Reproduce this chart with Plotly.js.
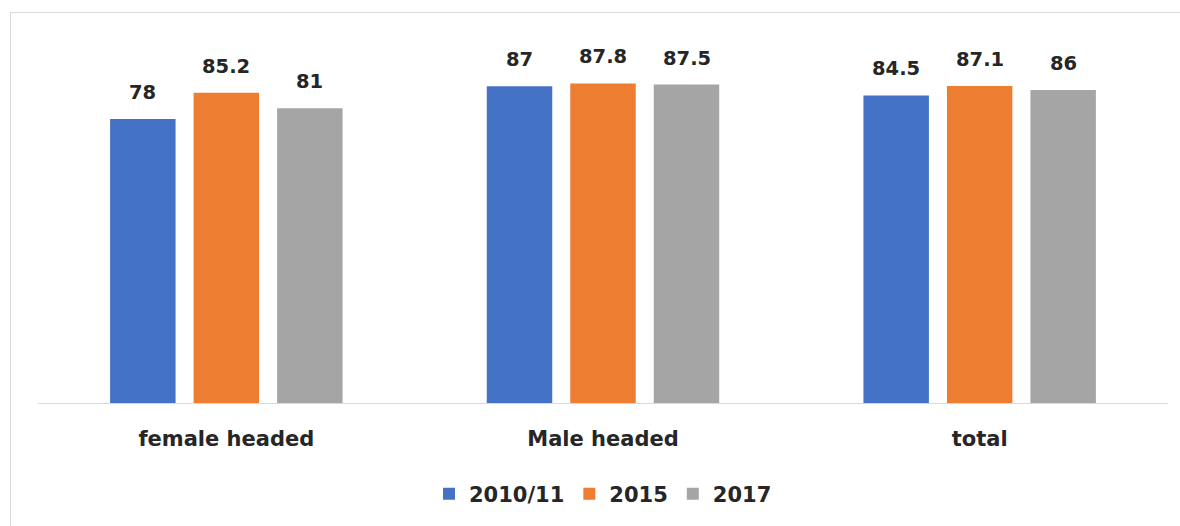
<!DOCTYPE html>
<html>
<head>
<meta charset="utf-8">
<script src="https://cdn.plot.ly/plotly-3.0.1.min.js"></script>
<style>
  html, body { margin: 0; padding: 0; background: #ffffff; }
  #wrap { position: relative; width: 1180px; height: 526px; overflow: hidden; }
  #chart { position: absolute; left: 0; top: 0; width: 1180px; height: 526px; }
  #frame { position: absolute; left: 10px; top: 12px; width: 1300px; height: 600px;
           border-left: 1px solid #d9d9d9; border-top: 1px solid #d9d9d9; pointer-events: none; }
</style>
</head>
<body>
<div id="wrap">
  <div id="chart"></div>
  <div id="frame"></div>
</div>
<script>
// ---- data ----
const categories = ["female headed", "Male headed", "total"];
const seriesNames = ["2010/11", "2015", "2017"];
const values2010 = [78, 87, 84.5];
const values2015 = [85.2, 87.8, 87.1];
const values2017 = [81, 87.5, 86];
const seriesColors = ["#4472C4", "#ED7D31", "#A5A5A5"];

const allValues = [values2010, values2015, values2017];

const W = 1180, H = 526;
const margin = { l: 37.5, r: 11.5, t: 39, b: 123, pad: 0 };
const bargap = 0.335;
const bargroupgap = 0.216;

const traces = allValues.map((vals, j) => ({
  type: "bar",
  name: seriesNames[j],
  x: categories,
  y: vals,
  marker: { color: seriesColors[j] },
  hoverinfo: "skip"
}));

// data labels above each bar (offset derived from layout geometry)
const plotW = W - margin.l - margin.r;
const slot = plotW / categories.length * (1 - bargap) / seriesNames.length;
const annotations = [];
allValues.forEach((vals, j) => {
  vals.forEach((v, i) => {
    annotations.push({
      x: categories[i], y: v, xref: "x", yref: "y",
      text: String(v), showarrow: false,
      xanchor: "center", yanchor: "bottom",
      xshift: (j - (seriesNames.length - 1) / 2) * slot,
      yshift: 13,
      font: { family: "DejaVu Sans", size: 19.5, color: "#262626", weight: "bold" }
    });
  });
});

const layout = {
  width: W, height: H,
  margin: margin,
  paper_bgcolor: "#ffffff",
  plot_bgcolor: "#ffffff",
  barmode: "group",
  bargap: bargap,
  bargroupgap: bargroupgap,
  showlegend: true,
  legend: {
    orientation: "h", x: 0.5, xanchor: "center", y: -0.25, yanchor: "middle",
    font: { family: "DejaVu Sans", size: 21, color: "#262626", weight: "bold" },
    traceorder: "normal"
  },
  xaxis: {
    type: "category",
    showline: true, linecolor: "#d9d9d9", linewidth: 1,
    showgrid: false, zeroline: false, ticks: "",
    tickfont: { family: "DejaVu Sans", size: 21, color: "#262626", weight: "bold" },
    ticklabelstandoff: 17,
    fixedrange: true
  },
  yaxis: {
    range: [0, 100],
    visible: false, showgrid: false, zeroline: false,
    fixedrange: true
  },
  annotations: annotations
};

Plotly.newPlot("chart", traces, layout, { displayModeBar: false, staticPlot: true });
</script>
</body>
</html>
